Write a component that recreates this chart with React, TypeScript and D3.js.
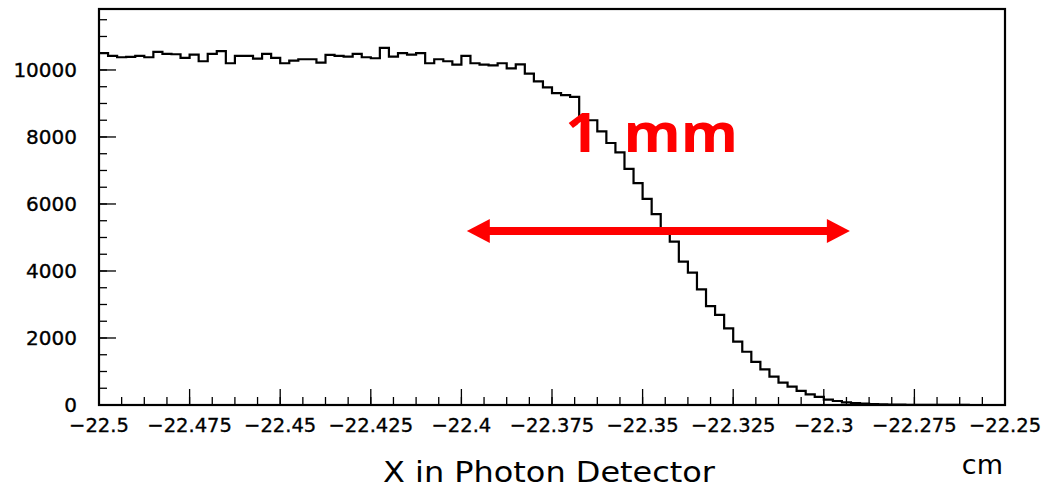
import React from "react";
import * as d3 from "d3";

// ---- data ----
const xDomain: [number, number] = [-22.5, -22.25];
const yDomain: [number, number] = [0, 11820];
const counts: number[] = [
  10500, 10420, 10380, 10390, 10420, 10380, 10540, 10480, 10470, 10360,
  10460, 10260, 10480, 10560, 10200, 10420, 10420, 10340, 10480, 10360,
  10200, 10280, 10320, 10320, 10220, 10450, 10420, 10400, 10480, 10380,
  10350, 10660, 10400, 10500, 10460, 10500, 10200, 10320, 10260, 10160,
  10420, 10200, 10160, 10140, 10200, 10050, 10170, 9890, 9660, 9480,
  9310, 9250, 9200, 8500, 8500, 8170, 7820, 7540, 7050, 6620,
  6150, 5700, 5270, 4875, 4280, 3950, 3450, 2950, 2690, 2290,
  1890, 1590, 1290, 1065, 846, 670, 550, 420, 320, 240,
  160, 120, 80, 60, 45, 30, 20, 15, 10, 8,
  5, 4, 3, 2, 1, 1, 0, 0, 0, 0,
];
const xMajorTicks: number[] = [-22.5, -22.475, -22.45, -22.425, -22.4, -22.375, -22.35, -22.325, -22.3, -22.275, -22.25];
const xTickLabels: string[] = ["\u221222.5", "\u221222.475", "\u221222.45", "\u221222.425", "\u221222.4", "\u221222.375", "\u221222.35", "\u221222.325", "\u221222.3", "\u221222.275", "\u221222.25"];
const yMajorTicks: number[] = [0, 2000, 4000, 6000, 8000, 10000];
const yTickLabels: string[] = ["0", "2000", "4000", "6000", "8000", "10000"];
const xMinorStep = 0.00625;
const yMinorStep = 500;
const xTitle = "X in Photon Detector";
const xUnit = "cm";
const annotText = "1 mm";
const arrowFrom = -22.3985;
const arrowTo = -22.2928;
const arrowLevel = 5190;
const annotX = -22.3475;
const annotLevel = 7560;

// ---- layout ----
const W = 1049, H = 490;
const L = 99, R = 1005, T = 9, B = 405;

export default function App() {
  const x = d3.scaleLinear().domain(xDomain).range([L, R]);
  const y = d3.scaleLinear().domain(yDomain).range([B, T]);
  const nb = counts.length;
  const bw = (xDomain[1] - xDomain[0]) / nb;
  const pts: [number, number][] = counts.map((c, i) => [xDomain[0] + i * bw, c]);
  pts.push([xDomain[1], counts[nb - 1]]);
  const line = d3
    .line<[number, number]>()
    .x((d) => x(d[0]))
    .y((d) => y(d[1]))
    .curve(d3.curveStepAfter);

  const xMinor: number[] = [];
  for (let v = xDomain[0]; v <= xDomain[1] + 1e-9; v += xMinorStep) xMinor.push(v);
  const yMinor: number[] = [];
  for (let v = 0; v <= yDomain[1]; v += yMinorStep) yMinor.push(v);

  const font = "'DejaVu Sans', sans-serif";
  const ax1 = x(arrowFrom), ax2 = x(arrowTo), ay = y(arrowLevel);
  const head = 23, hh = 12;
  const tx = x(annotX), ty = y(annotLevel);

  return (
    <svg width={W} height={H} style={{ position: "absolute", left: 0, top: 0, background: "#fff" }}>
      <rect x={0} y={0} width={W} height={H} fill="#fff" />
      {/* minor ticks */}
      {xMinor.map((v, i) => (
        <line key={"xm" + i} x1={x(v)} x2={x(v)} y1={B} y2={B - 8} stroke="#000" strokeWidth={1.3} />
      ))}
      {xMajorTicks.map((v, i) => (
        <line key={"xM" + i} x1={x(v)} x2={x(v)} y1={B} y2={B - 16} stroke="#000" strokeWidth={1.3} />
      ))}
      {yMinor.map((v, i) => (
        <line key={"ym" + i} x1={L} x2={L + 8} y1={y(v)} y2={y(v)} stroke="#000" strokeWidth={1.3} />
      ))}
      {yMajorTicks.map((v, i) => (
        <line key={"yM" + i} x1={L} x2={L + 17} y1={y(v)} y2={y(v)} stroke="#000" strokeWidth={1.3} />
      ))}
      {/* histogram */}
      <path d={line(pts) || ""} fill="none" stroke="#000" strokeWidth={2.2} />
      {/* frame */}
      <rect x={L} y={T} width={R - L} height={B - T} fill="none" stroke="#000" strokeWidth={2.2} />
      {/* tick labels */}
      {yMajorTicks.map((v, i) => (
        <text key={"yl" + i} x={77} y={y(v)} dy="0.36em" textAnchor="end" fontFamily={font} fontSize={20} fill="#000" stroke="#000" strokeWidth={0.35}>
          {yTickLabels[i]}
        </text>
      ))}
      {xMajorTicks.map((v, i) => (
        <text key={"xl" + i} x={x(v)} y={432} textAnchor="middle" fontFamily={font} fontSize={19.5} fill="#000" stroke="#000" strokeWidth={0.35}>
          {xTickLabels[i]}
        </text>
      ))}
      {/* axis titles */}
      <text x={383} y={482} fontFamily={font} fontSize={29} textLength={332} lengthAdjust="spacingAndGlyphs" fill="#000">
        {xTitle}
      </text>
      <text x={1003} y={474} textAnchor="end" fontFamily={font} fontSize={27} fill="#000">
        {xUnit}
      </text>
      {/* annotation */}
      <line x1={ax1 + head - 2} x2={ax2 - head + 2} y1={ay} y2={ay} stroke="#ff0000" strokeWidth={8} />
      <path d={`M${ax1},${ay} L${ax1 + head},${ay - hh} L${ax1 + head},${ay + hh} Z`} fill="#ff0000" />
      <path d={`M${ax2},${ay} L${ax2 - head},${ay - hh} L${ax2 - head},${ay + hh} Z`} fill="#ff0000" />
      <text transform={`translate(${tx},${ty}) scale(1.08,1)`} x={0} y={0} textAnchor="middle" fontFamily="'Open Sans', 'Liberation Sans', sans-serif" fontWeight={700} fontSize={54} wordSpacing={9} fill="#ff0000">
        {annotText}
      </text>
    </svg>
  );
}
